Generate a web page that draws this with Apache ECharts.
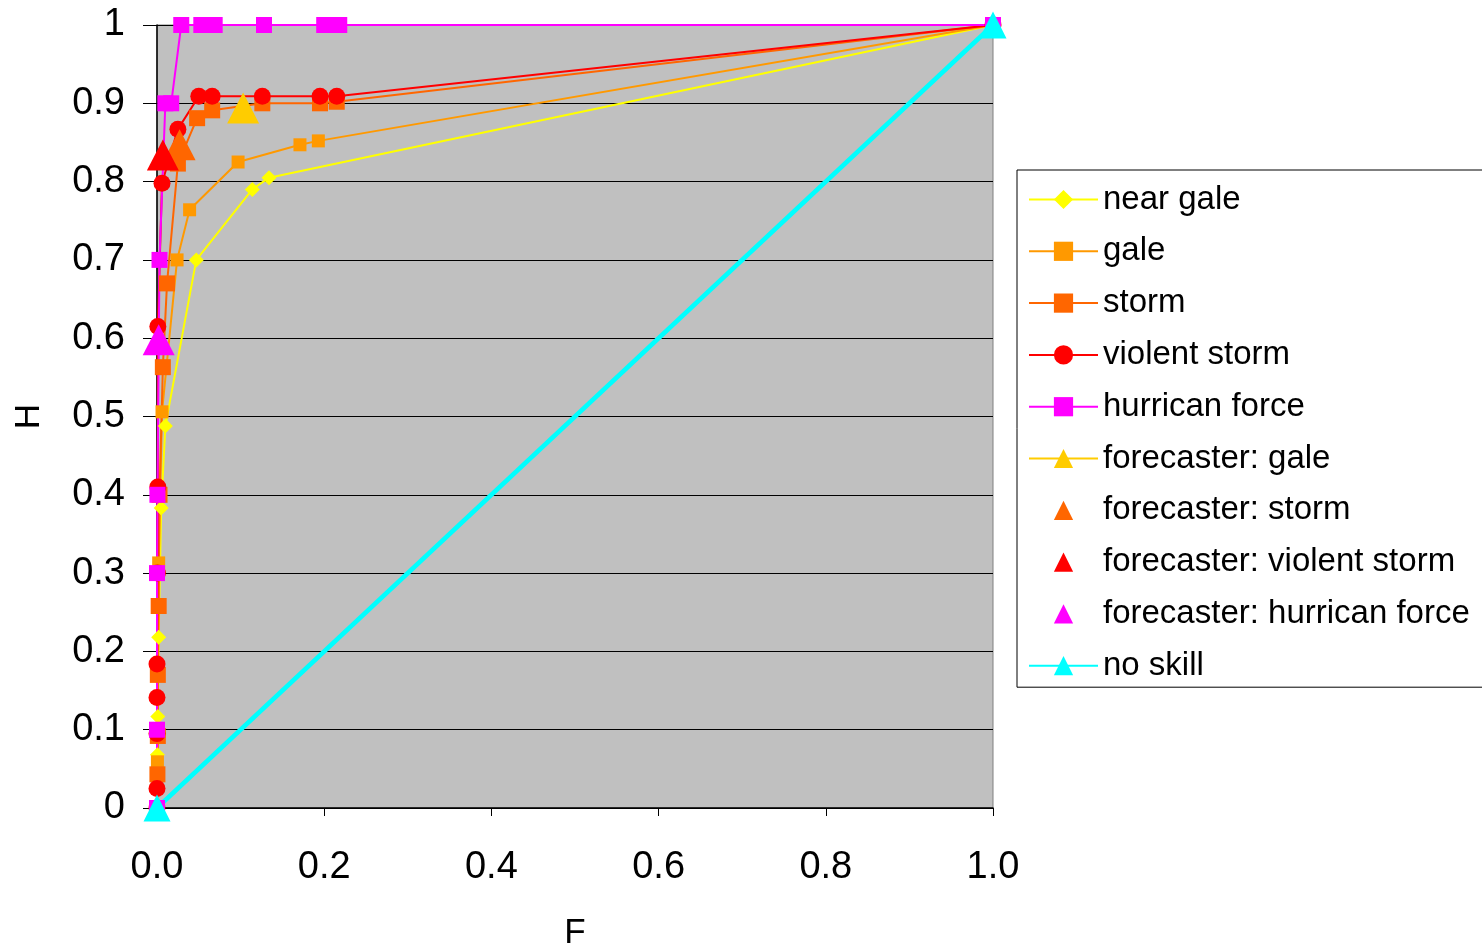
<!DOCTYPE html>
<html><head><meta charset="utf-8">
<script src="https://cdn.jsdelivr.net/npm/echarts@6/dist/echarts.min.js"></script>
<style>html,body{margin:0;padding:0;background:#fff}#c{width:1482px;height:948px}</style>
</head><body><div id="c"></div>
<script>
// ---- data (F = false alarm rate, H = hit rate) ----
const seriesNames = ['near gale','gale','storm','violent storm','hurrican force',
  'forecaster: gale','forecaster: storm','forecaster: violent storm','forecaster: hurrican force','no skill'];

const nearGaleF = [0, 0.0005, 0.001, 0.002, 0.005, 0.01, 0.047, 0.114, 0.134, 1];
const nearGaleH = [0, 0.068, 0.117, 0.218, 0.383, 0.488, 0.70, 0.79, 0.805, 1];

const galeF = [0, 0.0005, 0.002, 0.006, 0.024, 0.039, 0.097, 0.171, 0.193, 1];
const galeH = [0, 0.059, 0.313, 0.506, 0.70, 0.764, 0.825, 0.847, 0.852, 1];

const stormF = [0, 0.0005, 0.001, 0.001, 0.002, 0.003, 0.007, 0.012, 0.025, 0.048, 0.066, 0.126, 0.195, 0.215, 1];
const stormH = [0, 0.043, 0.092, 0.17, 0.258, 0.40, 0.563, 0.67, 0.823, 0.881, 0.891, 0.90, 0.90, 0.902, 1];

const violentF = [0, 0, 0, 0, 0, 0.0005, 0.001, 0.001, 0.006, 0.025, 0.05, 0.066, 0.126, 0.195, 0.215, 1];
const violentH = [0, 0.025, 0.095, 0.141, 0.184, 0.30, 0.41, 0.615, 0.798, 0.867, 0.909, 0.909, 0.909, 0.909, 0.909, 1];

const hurricaneF = [0, 0, 0, 0.0005, 0.003, 0.01, 0.017, 0.029, 0.053, 0.069, 0.128, 0.2, 0.218, 1];
const hurricaneH = [0, 0.1, 0.3, 0.4, 0.7, 0.9, 0.9, 1, 1, 1, 1, 1, 1, 1];

const fcGale = [0.103, 0.894];
const fcStorm = [0.027, 0.847];
const fcViolent = [0.007, 0.834];
const fcHurricane = [0.002, 0.598];

const noSkillF = [0, 1];
const noSkillH = [0, 1];

const xTickValues = [0, 0.2, 0.4, 0.6, 0.8, 1.0];
const yTickValues = [0, 0.1, 0.2, 0.3, 0.4, 0.5, 0.6, 0.7, 0.8, 0.9, 1];

// ---- build ----
const zip = (a, b) => a.map((v, i) => [v, b[i]]);
const FONT = "'Liberation Sans', Arial, sans-serif";

function lineSeries(name, F, H, color, symbol, size, width) {
  return {
    name, type: 'line', data: zip(F, H), color,
    symbol, symbolSize: size, showSymbol: true, showAllSymbol: true,
    lineStyle: { color, width }, itemStyle: { color, borderWidth: 0, opacity: 1 },
    clip: false, z: 2
  };
}
function pointSeries(name, pt, color, withLine) {
  return {
    name, type: 'line', data: [pt], color,
    symbol: 'triangle', symbolSize: [32, 31], showSymbol: true,
    lineStyle: withLine ? { color, width: 1 } : { color, width: 0, opacity: 0 },
    itemStyle: { color, borderWidth: 0, opacity: 1 },
    clip: false, z: 2
  };
}

const series = [
  lineSeries(seriesNames[0], nearGaleF, nearGaleH, '#FFFF00', 'diamond', 15, 2),
  lineSeries(seriesNames[1], galeF, galeH, '#FF9900', 'rect', 13, 2),
  lineSeries(seriesNames[2], stormF, stormH, '#FF6600', 'rect', 16, 2),
  lineSeries(seriesNames[3], violentF, violentH, '#FF0000', 'circle', 17, 2),
  lineSeries(seriesNames[4], hurricaneF, hurricaneH, '#FF00FF', 'rect', 16, 2),
  pointSeries(seriesNames[5], fcGale, '#FFCC00', true),
  pointSeries(seriesNames[6], fcStorm, '#FF6600', false),
  pointSeries(seriesNames[7], fcViolent, '#FF0000', false),
  pointSeries(seriesNames[8], fcHurricane, '#FF00FF', false),
  lineSeries(seriesNames[9], noSkillF, noSkillH, '#00FFFF', 'triangle', 27, 4.5)
];

const option = {
  animation: false,
  backgroundColor: '#FFFFFF',
  grid: {
    left: 157, right: 489, top: 25, bottom: 140,
    outerBoundsMode: 'none', containLabel: false,
    show: true, backgroundColor: '#C0C0C0', borderColor: '#808080', borderWidth: 1
  },
  xAxis: {
    type: 'value', min: 0, max: 1, interval: 0.2,
    name: 'F', nameLocation: 'middle', nameGap: 108,
    nameTextStyle: { fontSize: 35, color: '#000', fontFamily: FONT },
    axisLine: { show: true, onZero: false, lineStyle: { color: '#000', width: 1.5 } },
    axisTick: { show: true, length: 8, lineStyle: { color: '#000' } },
    axisLabel: { fontSize: 38, color: '#000', fontFamily: FONT, margin: 41,
      formatter: v => xTickValues.includes(+v.toFixed(1)) ? v.toFixed(1) : '' },
    splitLine: { show: false }
  },
  yAxis: {
    type: 'value', min: 0, max: 1, interval: 0.1,
    name: 'H', nameLocation: 'middle', nameGap: 110, nameRotate: 90,
    nameTextStyle: { fontSize: 35, color: '#000', fontFamily: FONT },
    axisLine: { show: true, onZero: false, lineStyle: { color: '#000', width: 1.5 } },
    axisTick: { show: true, length: 14, lineStyle: { color: '#000' } },
    axisLabel: { fontSize: 38, color: '#000', fontFamily: FONT, margin: 32,
      formatter: v => { const r = Math.round(v * 10) / 10; return yTickValues.includes(r) ? String(r) : ''; } },
    splitLine: { show: true, lineStyle: { color: '#000', width: 1 } }
  },
  legend: {
    orient: 'vertical', left: 1017, top: 170,
    padding: [13, 13, 5, 11],
    borderColor: '#000', borderWidth: 1, backgroundColor: '#FFFFFF',
    itemWidth: 69, itemHeight: 24, itemGap: 18.8,
    textStyle: { fontSize: 33, lineHeight: 33, color: '#000', fontFamily: FONT },
    data: seriesNames,
    selectedMode: false
  },
  series
};

const chart = echarts.init(document.getElementById('c'), null, { renderer: 'canvas' });
chart.setOption(option);
</script>
</body></html>
